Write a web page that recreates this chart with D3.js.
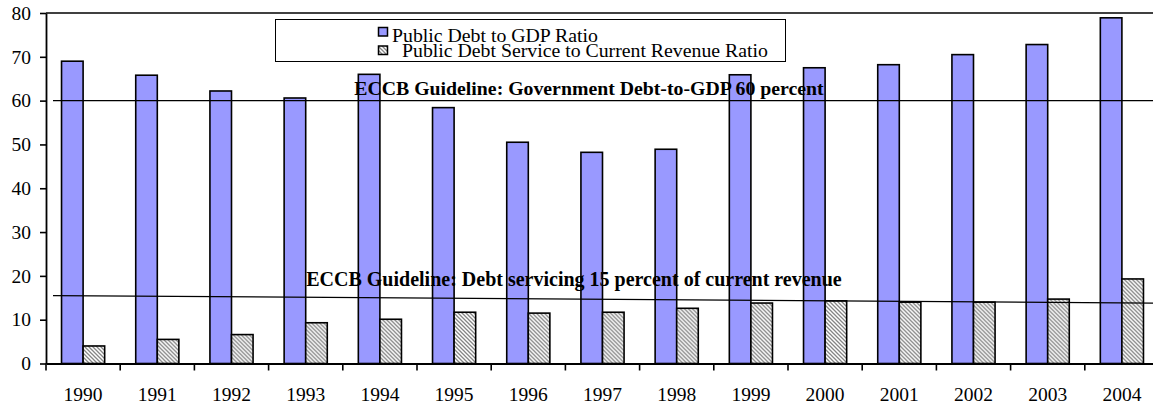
<!DOCTYPE html>
<html>
<head>
<meta charset="utf-8">
<script src="https://cdn.jsdelivr.net/npm/d3@7"></script>
<style>
  body { margin: 0; background: #fff; }
  text { font-family: "Liberation Serif", "Times New Roman", serif; }
</style>
</head>
<body>
<div id="chart"></div>
<script>
// data
const years = ["1990","1991","1992","1993","1994","1995","1996","1997","1998","1999","2000","2001","2002","2003","2004"];
const debtToGdp = [69.0, 65.8, 62.2, 60.6, 66.0, 58.4, 50.5, 48.2, 48.9, 65.9, 67.5, 68.2, 70.5, 72.8, 78.9];
const debtService = [4.0, 5.5, 6.6, 9.3, 10.1, 11.7, 11.5, 11.7, 12.6, 13.8, 14.3, 14.0, 14.0, 14.7, 19.3];
const seriesNames = ["Public Debt to GDP Ratio", "Public Debt Service to Current Revenue Ratio"];
const gdpGuide = [60, 60];
const serviceGuide = [15.5, 13.8];
const yTicks = [0, 10, 20, 30, 40, 50, 60, 70, 80];
const gdpGuideLabel = "ECCB Guideline: Government Debt-to-GDP 60 percent";
const serviceGuideLabel = "ECCB Guideline: Debt servicing 15 percent of current revenue";

const W = 1153, H = 404;
const margin = {top: 13, right: 0, bottom: 40.5, left: 46};

const svg = d3.select("#chart").append("svg")
    .attr("width", W)
    .attr("height", H);

// hatch pattern for the debt service bars
const defs = svg.append("defs");
const pat = defs.append("pattern")
    .attr("id", "hatch")
    .attr("patternUnits", "userSpaceOnUse")
    .attr("width", 4)
    .attr("height", 4);
pat.append("rect").attr("width", 4).attr("height", 4).attr("fill", "#fff");
pat.append("path")
    .attr("d", "M-1,-1 L5,5 M-1,3 L1,5 M3,-1 L5,1")
    .attr("stroke", "#858585")
    .attr("stroke-width", 1.3);

const x0 = d3.scaleBand()
    .domain(years)
    .range([margin.left, margin.left + 15 * 74.2]);

const x1 = d3.scaleBand()
    .domain([0, 1])
    .range([0, x0.bandwidth()])
    .paddingOuter(0.72);

const y = d3.scaleLinear()
    .domain([0, 80])
    .range([H - margin.bottom, margin.top]);

const fills = ["#9999ff", "url(#hatch)"];

const rows = years.map((yr, i) => ({year: yr, vals: [debtToGdp[i], debtService[i]]}));

// bars
const groups = svg.append("g").attr("class", "bars")
    .selectAll("g")
    .data(rows)
    .join("g")
    .attr("transform", d => `translate(${x0(d.year)},0)`);

groups.selectAll("rect")
    .data(d => d.vals.map((v, k) => ({k: k, v: v})))
    .join("rect")
    .attr("x", d => x1(d.k))
    .attr("y", d => y(d.v))
    .attr("width", x1.bandwidth())
    .attr("height", d => y(0) - y(d.v))
    .attr("fill", d => fills[d.k])
    .attr("stroke", "#000")
    .attr("stroke-width", 1.6);

// top border of plot area
svg.append("line")
    .attr("x1", margin.left).attr("x2", W)
    .attr("y1", y(80)).attr("y2", y(80))
    .attr("stroke", "#000").attr("stroke-width", 1.6);

// guideline lines
const gx = d3.scaleLinear().domain([0, 1]).range([53, W]);
const guideLine = d3.line().x((d, i) => gx(i)).y(d => y(d));
[gdpGuide, serviceGuide].forEach(g => {
    svg.append("path")
        .attr("d", guideLine(g))
        .attr("fill", "none")
        .attr("stroke", "#000")
        .attr("stroke-width", 1.3);
});

svg.append("text")
    .attr("x", 589).attr("y", y(gdpGuide[0]) - 6)
    .attr("text-anchor", "middle")
    .attr("font-size", 19.8).attr("font-weight", "bold")
    .text(gdpGuideLabel);

svg.append("text")
    .attr("x", 574).attr("y", y(serviceGuide[0]) - 10)
    .attr("text-anchor", "middle")
    .attr("font-size", 20).attr("font-weight", "bold")
    .text(serviceGuideLabel);

// y axis
const yAxis = svg.append("g")
    .attr("transform", `translate(${margin.left},0)`)
    .call(d3.axisLeft(y).tickValues(yTicks).tickSize(6).tickPadding(9).tickSizeOuter(0));
yAxis.select(".domain").attr("stroke-width", 1.8);
yAxis.selectAll(".tick line").attr("stroke-width", 1.6);
yAxis.selectAll("text")
    .attr("font-size", 19.5)
    .attr("fill", "#000");

// x axis: ticks at category boundaries
const xAxis = svg.append("g")
    .attr("transform", `translate(0,${y(0)})`)
    .call(d3.axisBottom(x0).tickSize(0).tickPadding(24).tickSizeOuter(0));
xAxis.select(".domain").attr("stroke-width", 1.8);
xAxis.selectAll("text")
    .attr("font-size", 19.5)
    .attr("fill", "#000");
xAxis.selectAll(".boundary")
    .data(years)
    .join("line")
    .attr("class", "boundary")
    .attr("x1", d => x0(d)).attr("x2", d => x0(d))
    .attr("y1", 0).attr("y2", 7)
    .attr("stroke", "#000").attr("stroke-width", 1.6);

// legend
const lg = svg.append("g").attr("class", "legend");
lg.append("rect")
    .attr("x", 275.5).attr("y", 19.5)
    .attr("width", 510).attr("height", 42)
    .attr("fill", "#fff").attr("stroke", "#000").attr("stroke-width", 1);

seriesNames.forEach((name, i) => {
    lg.append("rect")
        .attr("x", 378.5).attr("y", 27.5 + i * 18.5)
        .attr("width", 9).attr("height", 8.5)
        .attr("fill", fills[i])
        .attr("stroke", "#000").attr("stroke-width", 1.5);
    lg.append("text")
        .attr("x", 392 + i * 10).attr("y", 41.5 + i * 15)
        .attr("font-size", 19.8)
        .text(name);
});
</script>
</body>
</html>
